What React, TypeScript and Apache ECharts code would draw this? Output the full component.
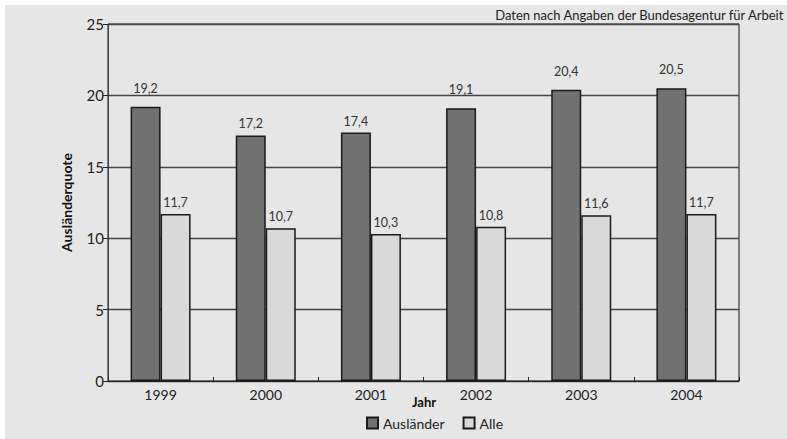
import React, { useEffect, useRef } from "react";
import * as echarts from "echarts";

const years = ["1999", "2000", "2001", "2002", "2003", "2004"];
const auslaender = [19.2, 17.2, 17.4, 19.1, 20.4, 20.5];
const alle = [11.7, 10.7, 10.3, 10.8, 11.6, 11.7];
const seriesNames = ["Ausländer", "Alle"];
const sourceText = "Daten nach Angaben der Bundesagentur für Arbeit";
const xTitle = "Jahr";
const yTitle = "Ausländerquote";

const FONT = "Lato";

export default function App() {
  const ref = useRef<HTMLDivElement>(null);
  useEffect(() => {
    if (!ref.current) return;
    const chart = echarts.init(ref.current, undefined, { renderer: "svg" });
    const label = {
      show: true,
      position: "top",
      distance: 5,
      color: "#333",
      fontFamily: FONT,
      fontSize: 12.5,
      formatter: (p: any) => String(p.value.toFixed(1)).replace(".", ","),
    };
    // labels near a grid line sit a bit higher in the reference
    const withLabelDistance = (vals: number[]) =>
      vals.map((v) => ({ value: v, label: { distance: v > 18.5 && v < 21 ? 12 : 5 } }));
    chart.setOption({
      animation: false,
      backgroundColor: "#e6e6e6",
      textStyle: { fontFamily: FONT },
      graphic: [
        {
          type: "text",
          right: 2,
          top: 3,
          style: { text: sourceText, fontFamily: FONT, fontSize: 13, fill: "#222" },
        },
        {
          type: "text",
          x: 419,
          y: 397,
          style: {
            text: xTitle,
            fontFamily: FONT,
            fontSize: 13,
            fontWeight: "bold",
            fill: "#111",
            textAlign: "center",
            textVerticalAlign: "middle",
          },
        },
      ],
      grid: {
        left: 103,
        top: 19,
        width: 631,
        height: 357,
        show: true,
        borderColor: "#111",
        borderWidth: 1,
      },
      legend: {
        bottom: 4,
        left: 356,
        icon: "rect",
        itemWidth: 11,
        itemHeight: 11,
        itemGap: 18,
        textStyle: { fontFamily: FONT, fontSize: 14, color: "#222" },
        data: seriesNames,
      },
      xAxis: {
        type: "category",
        data: years,
        axisLine: { lineStyle: { color: "#222", width: 1 } },
        axisTick: { show: true, inside: true, length: 4, lineStyle: { color: "#222" } },
        axisLabel: { fontFamily: FONT, fontSize: 14, color: "#222", margin: 6 },
      },
      yAxis: {
        type: "value",
        min: 0,
        max: 25,
        interval: 5,
        name: yTitle,
        nameLocation: "middle",
        nameGap: 35,
        nameTextStyle: { fontFamily: FONT, fontWeight: "bold", fontSize: 14, color: "#111" },
        axisLine: { show: true, lineStyle: { color: "#444", width: 1 } },
        axisTick: { show: true, length: 5, lineStyle: { color: "#222" } },
        axisLabel: { fontFamily: FONT, fontSize: 15, color: "#222", margin: 4 },
        splitLine: { lineStyle: { color: "#444", width: 1.3 } },
      },
      series: [
        {
          name: seriesNames[0],
          type: "bar",
          data: withLabelDistance(auslaender),
          barWidth: 30,
          barGap: "0%",
          itemStyle: { color: "#717171", borderColor: "#1a1a1a", borderWidth: 1.5 },
          label,
        },
        {
          name: seriesNames[1],
          type: "bar",
          data: alle,
          barWidth: 30,
          barGap: "0%",
          itemStyle: { color: "#d9d9d9", borderColor: "#1a1a1a", borderWidth: 1.5 },
          label,
        },
      ],
    });
    return () => chart.dispose();
  }, []);
  return (
    <div style={{ position: "fixed", left: 0, top: 0, width: 787, height: 439, background: "#fff" }}>
      <div ref={ref} style={{ position: "absolute", left: 5, top: 5, width: 782, height: 434 }} />
    </div>
  );
}
